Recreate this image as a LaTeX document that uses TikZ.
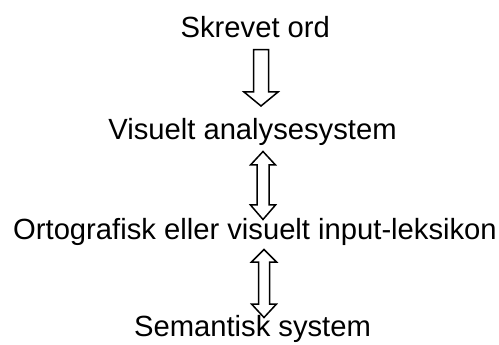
\documentclass[tikz,border=0pt]{standalone}
\usepackage{fontspec}
\setmainfont{Liberation Sans}
\begin{document}
\begin{tikzpicture}[x=1pt,y=-1pt,
  lbl/.style={anchor=base,inner sep=0pt,font=\fontsize{29.2}{34}\selectfont},
  blockarrow/.style={draw=black,line width=1.5pt,fill=white,line join=miter}]
\useasboundingbox (0,0) rectangle (499,345);
\node[lbl] (skrevet) at (255.3,37.7) {Skrevet ord};
\node[lbl] (visuelt) at (252.5,139.3) {Visuelt analysesystem};
\node[lbl] (orto) at (255,239.3) {Ortografisk eller visuelt input-leksikon};
\node[lbl] (sem) at (252.5,336) {Semantisk system};
% arrow 1: single down arrow
\draw[blockarrow] (253.5,49.7) -- (268.5,49.7) -- (268.5,92) -- (278,92) -- (261,106) -- (244,92) -- (253.5,92) -- cycle;
% arrow 2: double arrow
\draw[blockarrow] (263,151.5) -- (275.5,165) -- (269,165) -- (269,205) -- (275.5,205) -- (263,219.5) -- (250.5,205) -- (257,205) -- (257,165) -- (250.5,165) -- cycle;
% arrow 3: double arrow
\draw[blockarrow] (264,249.5) -- (276.5,262) -- (269.5,262) -- (269.5,304) -- (276.5,304) -- (264,317.5) -- (251.5,304) -- (258.5,304) -- (258.5,262) -- (251.5,262) -- cycle;
\end{tikzpicture}
\end{document}
